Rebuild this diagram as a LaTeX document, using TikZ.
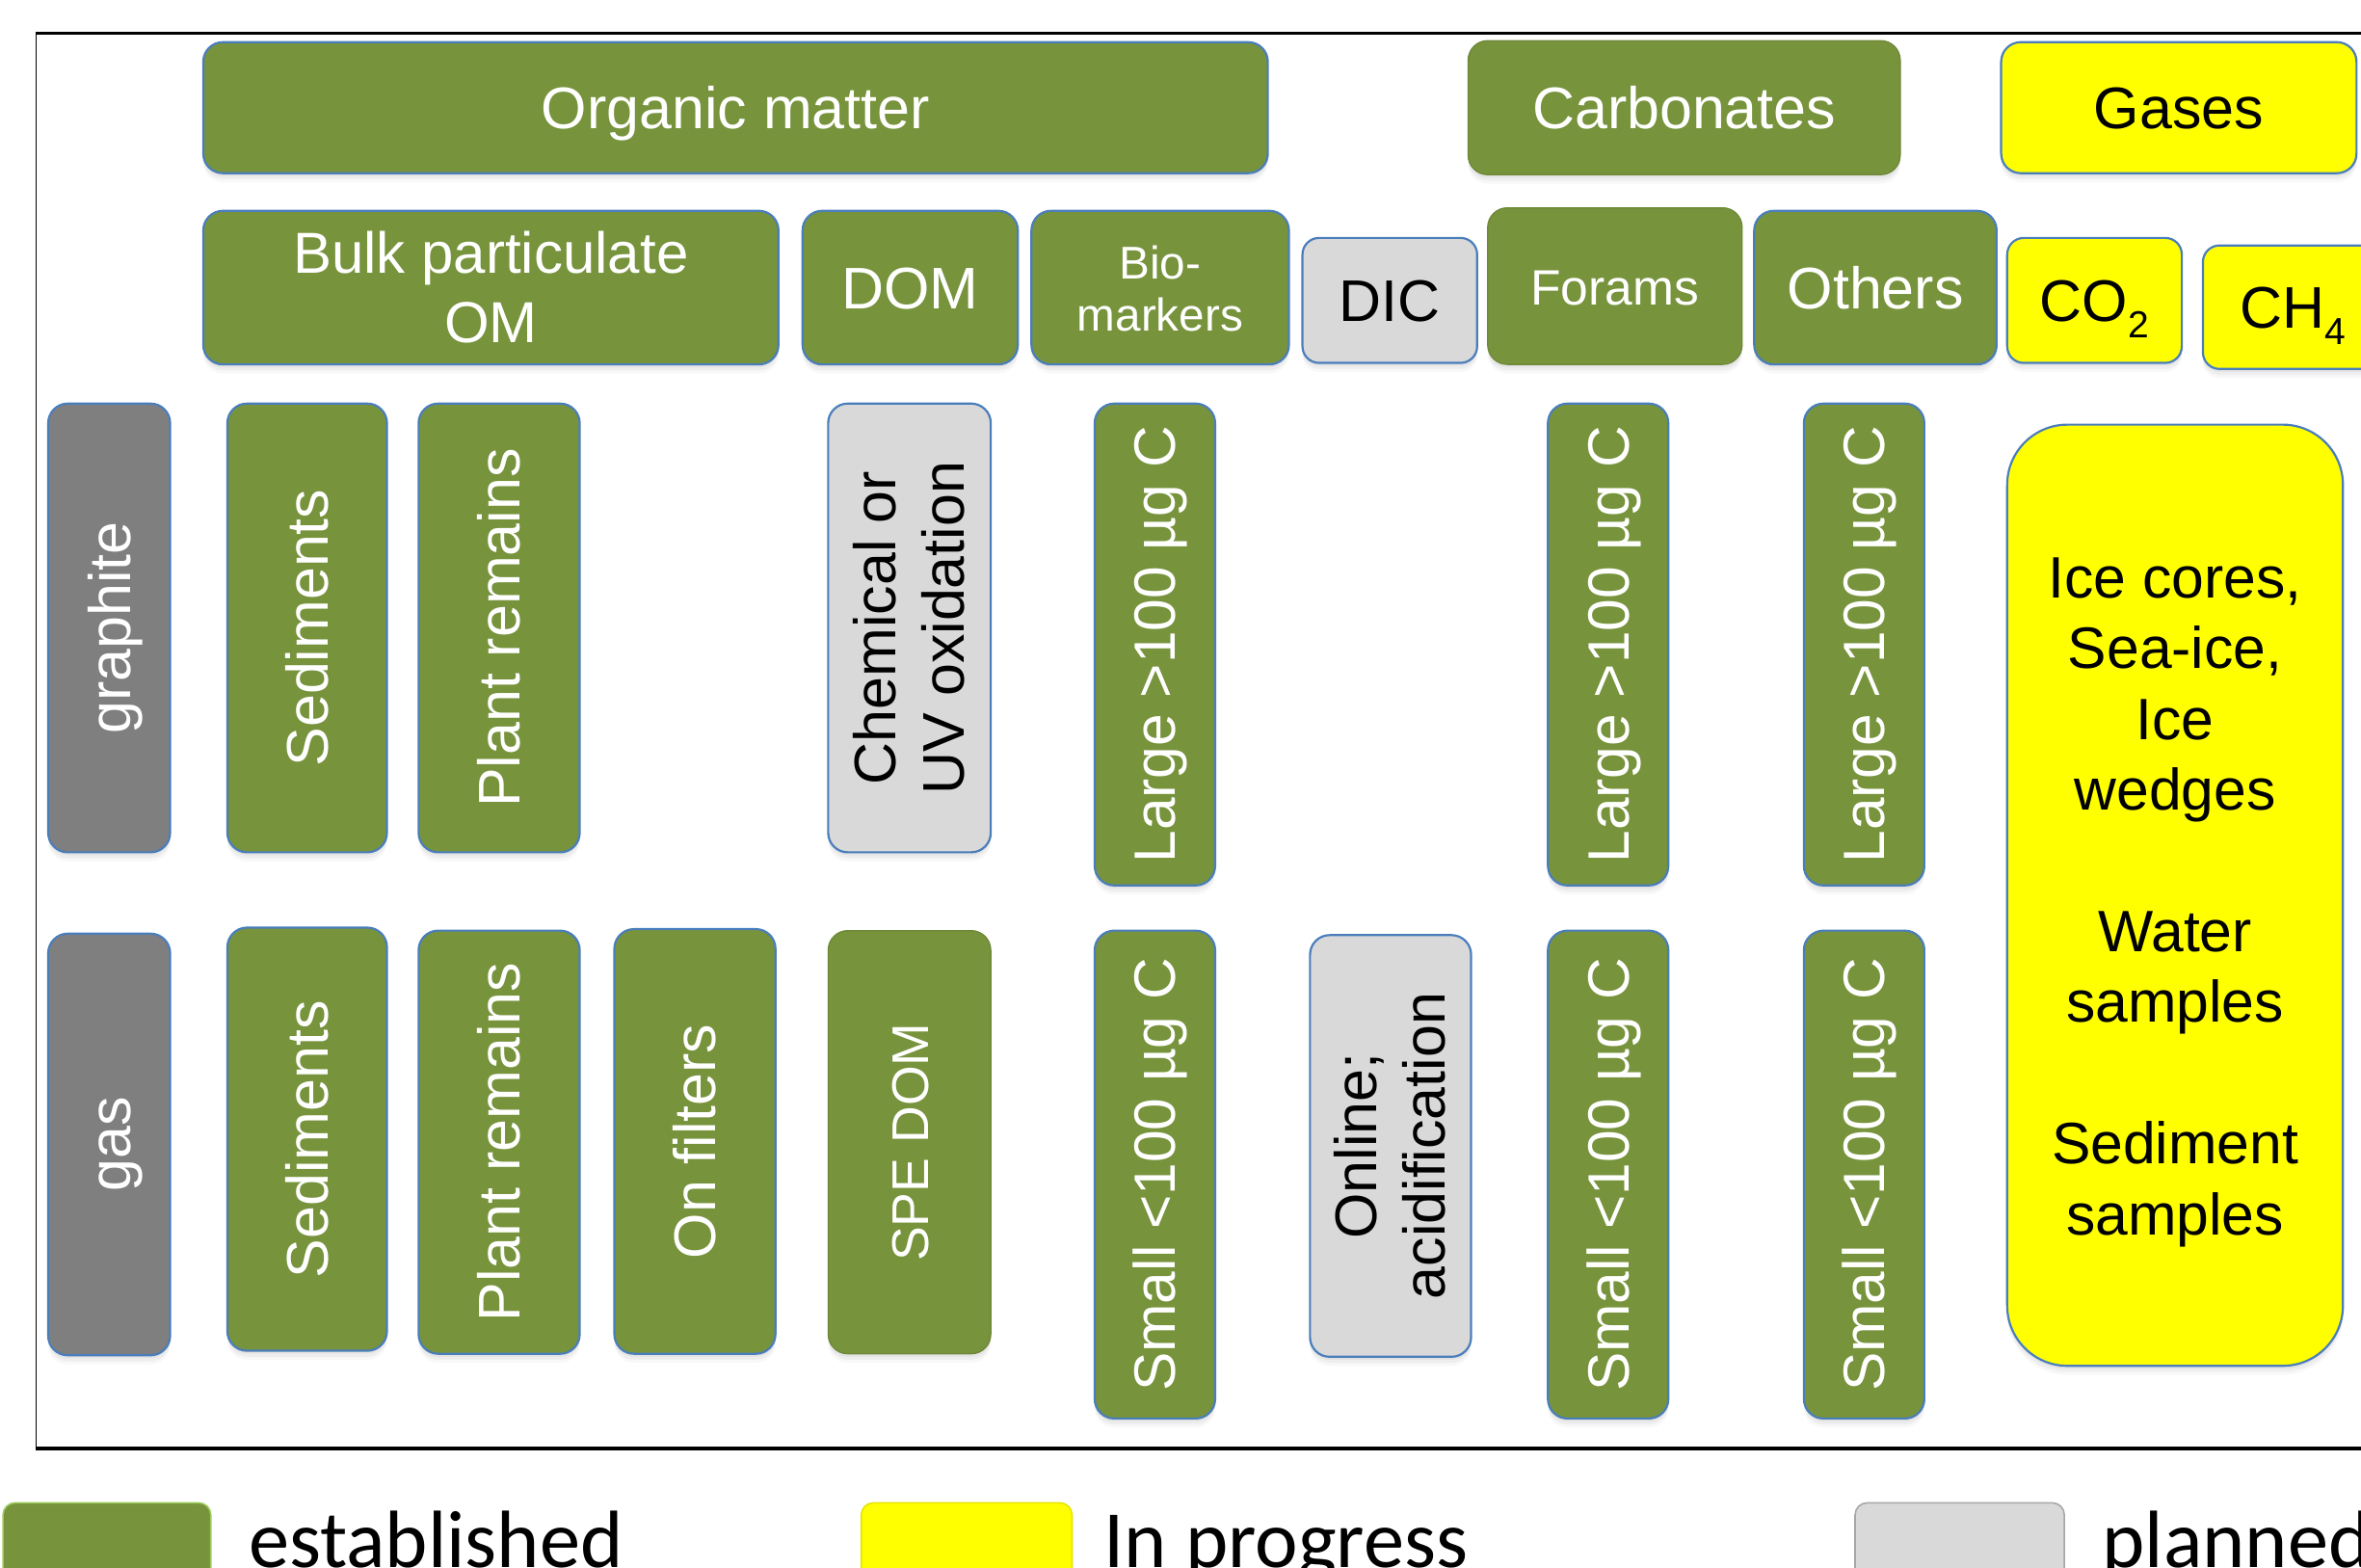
\documentclass[tikz,border=0pt]{standalone}
\usepackage{fontspec}
\usepackage{graphicx}
\setmainfont{Liberation Sans}
\newfontfamily\calib{Carlito}
\usetikzlibrary{shadows}
\definecolor{ogreen}{HTML}{77933C}
\definecolor{bblue}{HTML}{4A7EBB}
\definecolor{yel}{HTML}{FFFF00}
\definecolor{lgray}{HTML}{D9D9D9}
\definecolor{dgray}{HTML}{7F7F7F}
\definecolor{lgreen}{HTML}{9BCB5A}
\newcommand\tx[1]{\raisebox{-4.5pt}[\height][\depth]{\begin{tabular}{@{}c@{}}#1\end{tabular}}}
\newcommand\vtx[1]{\rotatebox{90}{\tx{#1}}}
\newcommand\fs[2]{\fontsize{#1}{#2}\selectfont}
\newcommand\sub[1]{\raisebox{-0.28em}{\fontsize{25}{25}\selectfont #1}}
\begin{document}
\begin{tikzpicture}[x=1pt,y=-1pt,
  corners/.style n args={4}{at={({(#1+#3)/2},{(#2+#4)/2})},
     minimum width={(#3-#1)*1pt}, minimum height={(#4-#2)*1pt}},
  shad/.style={drop shadow={shadow xshift=0pt,shadow yshift=-2pt,opacity=0.10},
               drop shadow={shadow xshift=0pt,shadow yshift=-4pt,opacity=0.08},
               drop shadow={shadow xshift=0pt,shadow yshift=-6pt,opacity=0.06}},
  box/.style={rectangle, rounded corners=13pt, inner sep=0pt, draw=bblue,
              line width=1.4pt, shad, font=\fs{39}{47}},
  grn/.style={box, fill=ogreen, text=white},
  grnplain/.style={grn, draw=ogreen!92!black, line width=0.8pt},
  ylw/.style={box, fill=yel, text=black},
  lgr/.style={box, fill=lgray, text=black},
  dgr/.style={box, fill=dgray, text=white},
  legbox/.style={rectangle, rounded corners=8pt, inner sep=0pt, line width=1pt},
  legtext/.style={anchor=base west, inner sep=0pt, font=\calib\fs{54}{60}}]
\useasboundingbox (0,0) rectangle (1568,1041);
\clip (0,0) rectangle (1568,1041);
% frame
\draw[line width=1pt] (24,22) -- (24,962);
\draw[line width=2pt] (23.5,22) -- (1575,22);
\draw[line width=3pt] (23.5,962) -- (1575,962);
% row 1
\node[grn, corners={135}{28}{842}{115}] (om) {\tx{Organic matter}};
\node[grnplain, corners={975}{27}{1262}{116}] (carb) {\tx{Carbonates}};
\node[ylw, corners={1329}{28}{1565}{115}] (gases) {\tx{Gases}};
% row 2
\node[grn, corners={135}{140}{517}{242}] (bulk) {\fs{38.4}{46}\tx{Bulk particulate\\OM}};
\node[grn, corners={533}{140}{676}{242}] (dom) {\tx{DOM}};
\node[grn, corners={685}{140}{856}{242}] (bio) {\fs{30.5}{35}\tx{Bio-\\markers}};
\node[lgr, rounded corners=11pt, corners={865}{158}{981}{241}] (dic) {\tx{DIC}};
\node[grnplain, corners={988}{138}{1157}{242}] (forams) {\fs{33}{40}\tx{Forams}};
\node[grn, corners={1165}{140}{1326}{242}] (others) {\tx{Others}};
\node[ylw, rounded corners=11pt, corners={1333}{158}{1449}{241}] (co2) {\tx{CO\sub{2}}};
\node[ylw, rounded corners=11pt, corners={1463}{163}{1582}{245}] (ch4) {\tx{CH\sub{4}}};
% row 3
\node[dgr, corners={32}{268}{113}{566}] (graphite) {\vtx{graphite}};
\node[grn, corners={151}{268}{257}{566}] (sed1) {\vtx{Sediments}};
\node[grn, corners={278}{268}{385}{566}] (plant1) {\vtx{Plant remains}};
\node[lgr, corners={550}{268}{658}{566}] (chem) {\fs{39}{45}\vtx{Chemical or\\UV oxidation}};
\node[grn, corners={727}{268}{807}{588}] (large1) {\fs{38.7}{46}\vtx{Large >100 µg C}};
\node[grn, corners={1028}{268}{1108}{588}] (large2) {\fs{38.7}{46}\vtx{Large >100 µg C}};
\node[grn, corners={1198}{268}{1278}{588}] (large3) {\fs{38.7}{46}\vtx{Large >100 µg C}};
\node[ylw, rounded corners=40pt, corners={1333}{282}{1556}{907}] (ice)
  {\fs{38.8}{47}\tx{Ice cores,\\Sea-ice,\\Ice\\wedges\\ \\Water\\samples\\ \\Sediment\\samples}};
% row 4
\node[dgr, corners={32}{620}{113}{900}] (gas) {\vtx{gas}};
\node[grn, corners={151}{616}{257}{897}] (sed2) {\vtx{Sediments}};
\node[grn, corners={278}{618}{385}{899}] (plant2) {\vtx{Plant remains}};
\node[grn, corners={408}{617}{515}{899}] (filt) {\vtx{On filters}};
\node[grnplain, corners={550}{618}{658}{899}] (spe) {\fs{34.3}{41}\vtx{SPE DOM}};
\node[grn, corners={727}{618}{807}{942}] (small1) {\fs{38.7}{46}\vtx{Small <100 µg C}};
\node[lgr, corners={870}{621}{977}{901}] (online) {\fs{39}{45}\vtx{Online;\\acidification}};
\node[grn, corners={1028}{618}{1108}{942}] (small2) {\fs{38.7}{46}\vtx{Small <100 µg C}};
\node[grn, corners={1198}{618}{1278}{942}] (small3) {\fs{38.7}{46}\vtx{Small <100 µg C}};
% legend
\node[legbox, fill=ogreen, draw=lgreen, corners={2}{998}{140}{1070}] (lg1) {};
\node[legtext] (lt1) at (165,1041) {established};
\node[legbox, fill=yel, draw=yel!90!black, corners={572}{998}{712}{1070}] (lg2) {};
\node[legtext] (lt2) at (733,1041) {In progress};
\node[legbox, fill=lgray, draw=gray!70, corners={1232}{998}{1371}{1070}] (lg3) {};
\node[legtext] (lt3) at (1396,1041) {planned};
\end{tikzpicture}
\end{document}
